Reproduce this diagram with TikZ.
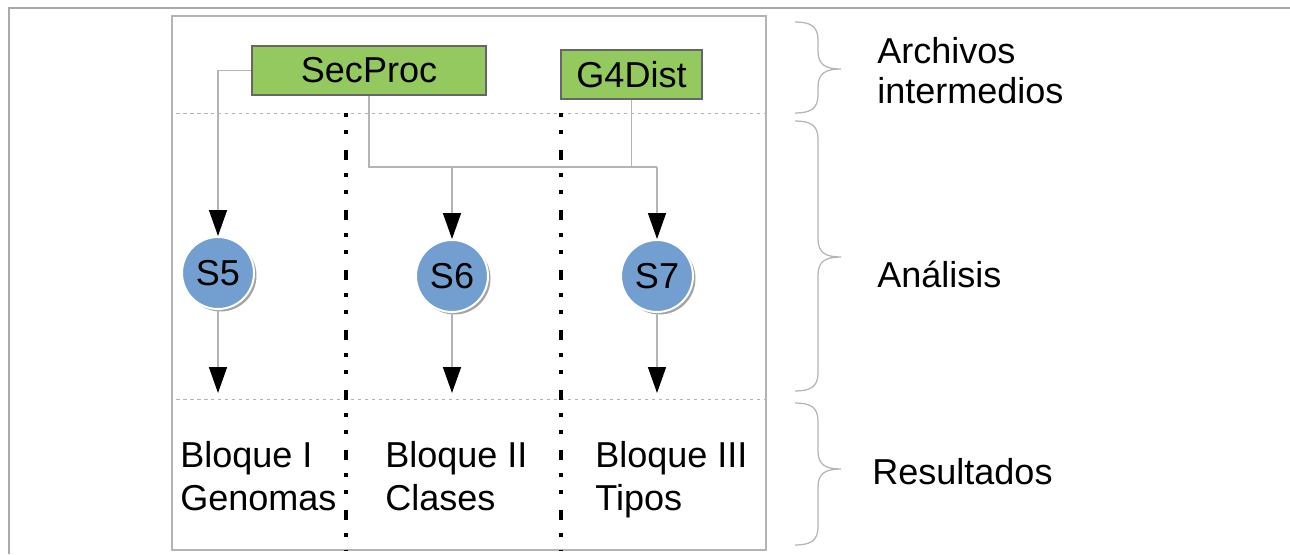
\documentclass[tikz,border=0pt]{standalone}
\usepackage{fontspec}
\setmainfont{Liberation Sans}
\usetikzlibrary{arrows.meta, shadows}
\definecolor{verdeArch}{HTML}{93C95F}
\definecolor{azulEtapa}{HTML}{729FCF}
\definecolor{grisLinea}{HTML}{B4B4B4}
\definecolor{grisMarco}{HTML}{AAAAAA}
\tikzstyle{archivo} = [rectangle, draw=black!60, line width=0.04cm, fill=verdeArch, minimum height=0.98cm, font=\fontsize{20.5}{23}\selectfont]
\tikzstyle{flecha} = [draw=grisLinea, line width=0.03cm, -{Triangle[width=0.36cm, length=0.52cm, color=black]}]
\tikzstyle{linea} = [draw=grisLinea, line width=0.03cm]
\newcommand{\llave}[3]{%
  \draw [grisLinea, line width=0.025cm] (795,#1) .. controls (810,#1) and (818,#1+4) .. (818,#1+18)
    -- (818,#2-18) .. controls (818,#2-4) and (826,#2) .. (841,#2)
    .. controls (826,#2) and (818,#2+4) .. (818,#2+18)
    -- (818,#3-18) .. controls (818,#3-4) and (810,#3) .. (795,#3);}

\begin{document}
\begin{tikzpicture}[x=0.02cm, y=-0.02cm,
		etapa/.style={
			circle,
			draw=white,
			line width=0.04cm,
			fill=azulEtapa,
			minimum size=1.44cm,
			inner sep=0pt,
			drop shadow={shadow xshift=0.05cm, shadow yshift=-0.05cm, fill=black!60, opacity=0.6},
			font=\fontsize{20.5}{23}\selectfont},
		texto/.style={
			anchor=base west,
			align=left,
			inner sep=0pt,
			font=\fontsize{20.5}{24}\selectfont},
		divisor/.style={
			line width=0.08cm,
			dash pattern=on 0.08cm off 0.26cm on 0.08cm off 0.32cm on 0.2cm off 0.26cm},
		separa/.style={
			grisLinea,
			line width=0.02cm,
			dash pattern=on 0.07cm off 0.07cm}]
		\useasboundingbox (0,0) rectangle (1290,554);
		\draw [grisMarco, line width=0.04cm] (1290,8) -- (9,8) -- (9,554);
		\draw [grisLinea, line width=0.03cm] (172,16) rectangle (766,550);

		\draw [separa] (176,113) -- (766,113);
		\draw [separa] (176,399) -- (766,399);
		\draw [divisor] (346,113) -- (346,550);
		\draw [divisor] (561,113) -- (561,550);

		\node (secproc) [archivo, minimum width=4.68cm] at (369,70.5) {SecProc};
		\node (g4dist) [archivo, minimum width=2.82cm] at (631.5,74.5) {G4Dist};
		\node (s5) [etapa] at (218,273) {S5};
		\node (s6) [etapa] at (452,276) {S6};
		\node (s7) [etapa] at (657,276) {S7};
		\path (secproc.south) ++(0,71) coordinate (union);
		\coordinate (fin) at (0,393);

		\draw [flecha] (secproc.west) -| (s5.north);
		\draw [linea] (secproc.south) -- (union) -| (g4dist.south);
		\draw [linea] (s6 |- union) -- (s7 |- union);
		\draw [flecha] (s6 |- union) -- (s6.north);
		\draw [flecha] (s7 |- union) -- (s7.north);
		\draw [flecha] (s5.south) -- (s5 |- fin);
		\draw [flecha] (s6.south) -- (s6 |- fin);
		\draw [flecha] (s7.south) -- (s7 |- fin);

		\node (bloque1) [texto] at (180,510) {Bloque I\\Genomas};
		\node (bloque2) [texto] at (385,510) {Bloque II\\Clases};
		\node (bloque3) [texto] at (595,510) {Bloque III\\Tipos};

		\llave{22}{69}{113}
		\llave{121}{257}{391}
		\llave{403}{469}{545}
		\node (archivos) [texto, font=\fontsize{20.5}{22.5}\selectfont] at (877,103) {Archivos\\intermedios};
		\node (analisis) [texto] at (877,287) {Análisis};
		\node (resultados) [texto] at (872,484) {Resultados};
	\end{tikzpicture}
\end{document}
